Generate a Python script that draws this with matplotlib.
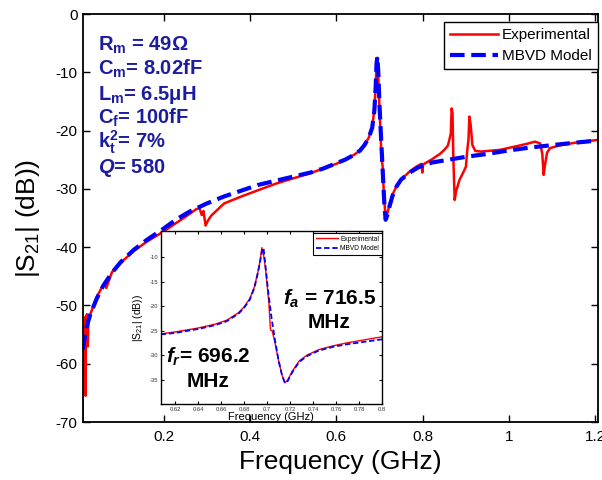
import matplotlib
matplotlib.use('Agg')
from matplotlib import pyplot as plt

plt.rcParams['font.family'] = ['Liberation Sans', 'DejaVu Sans']
plt.rcParams['axes.unicode_minus'] = False
plt.rcParams['mathtext.fontset'] = 'custom'
plt.rcParams['mathtext.rm'] = 'Liberation Sans:bold'
plt.rcParams['mathtext.bf'] = 'Liberation Sans:bold'
plt.rcParams['mathtext.it'] = 'Liberation Sans:italic:bold'

# main plot, measured response (GHz, dB)
exp_freq = [0.012, 0.0125, 0.014, 0.016, 0.018, 0.019, 0.020, 0.022, 0.024, 0.026, 0.030,
            0.045, 0.060, 0.065, 0.067, 0.080, 0.100, 0.130, 0.160, 0.200, 0.230, 0.260,
            0.275, 0.283, 0.288, 0.292, 0.297, 0.302, 0.310, 0.340, 0.380, 0.420, 0.460,
            0.500, 0.540, 0.570, 0.600, 0.620, 0.640, 0.655, 0.665, 0.675, 0.683, 0.688,
            0.691, 0.693, 0.695, 0.697, 0.700, 0.703, 0.705, 0.707, 0.710, 0.714, 0.718,
            0.723, 0.730, 0.740, 0.750, 0.770, 0.785, 0.797, 0.799, 0.801, 0.820, 0.840,
            0.850, 0.858, 0.862, 0.865, 0.867, 0.869, 0.871, 0.874, 0.877, 0.885, 0.895,
            0.900, 0.903, 0.906, 0.908, 0.911, 0.915, 0.922, 0.935, 0.950, 0.980, 1.010,
            1.040, 1.060, 1.072, 1.077, 1.080, 1.083, 1.088, 1.095, 1.120, 1.160, 1.206]
exp_db = [-70, -57.5, -62, -55, -52, -65.5, -53, -51.5, -57, -52, -51.5,
          -48.5, -46.5, -46.0, -47.0, -44.3, -42.7, -40.7, -39.1, -37.3, -35.8, -34.3,
          -33.5, -33.3, -34.5, -33.8, -36.3, -35.5, -34.6, -32.5, -31.3, -30.2, -29.1,
          -28.2, -27.3, -26.5, -25.7, -25.0, -24.2, -23.4, -22.5, -21.2, -19.4, -16.3,
          -12.3, -8.5, -7.5, -10.5, -16.5, -22.0, -25.0, -26.0, -31.0, -35.0, -34.2,
          -32.8, -31.0, -29.4, -28.4, -27.0, -26.2, -25.7, -27.2, -25.8, -25.0, -24.0,
          -23.3, -22.6, -21.5, -20.5, -16.2, -17.0, -25.0, -31.9, -30.5, -28.5, -27.0,
          -26.2, -23.5, -21.5, -17.6, -19.0, -22.5, -23.5, -23.6, -23.5, -23.3, -22.8,
          -22.3, -21.9, -22.2, -24.0, -27.6, -26.0, -23.8, -23.0, -22.5, -22.0, -21.6]

# main plot, MBVD model
mod_freq = [0.013, 0.020, 0.030, 0.045, 0.060, 0.080, 0.100, 0.130, 0.160, 0.200, 0.230,
            0.260, 0.300, 0.340, 0.380, 0.420, 0.460, 0.500, 0.540, 0.570, 0.600, 0.620,
            0.640, 0.655, 0.665, 0.675, 0.683, 0.688, 0.691, 0.693, 0.695, 0.697, 0.700,
            0.704, 0.708, 0.711, 0.714, 0.718, 0.723, 0.730, 0.740, 0.750, 0.770, 0.790,
            0.820, 0.860, 0.900, 0.950, 1.000, 1.050, 1.100, 1.150, 1.206]
mod_db = [-57.5, -54.0, -51.5, -48.8, -46.6, -44.4, -42.6, -40.5, -38.8, -36.8, -35.2,
          -33.9, -32.5, -31.3, -30.3, -29.3, -28.6, -27.9, -27.2, -26.5, -25.6, -25.0,
          -24.2, -23.4, -22.5, -21.2, -19.5, -16.5, -12.5, -8.5, -7.3, -10.0, -15.9,
          -22.0, -28.0, -32.5, -35.3, -34.5, -33.0, -31.2, -29.5, -28.4, -27.2, -26.3,
          -25.5, -25.0, -24.5, -24.0, -23.4, -22.9, -22.5, -22.1, -21.7]

# inset, zoom around the resonance
in_exp_freq = [0.6075, 0.620, 0.640, 0.655, 0.665, 0.675, 0.680, 0.685, 0.689, 0.692, 0.694,
               0.6955, 0.697, 0.699, 0.7015, 0.703, 0.7045, 0.707, 0.710, 0.713, 0.7155,
               0.718, 0.722, 0.728, 0.735, 0.745, 0.758, 0.770, 0.785, 0.800]
in_exp_db = [-25.6, -25.2, -24.4, -23.6, -22.8, -21.3, -20.1, -18.4, -16.0, -13.0, -10.6,
             -8.0, -9.5, -13.0, -19.0, -24.8, -25.0, -27.5, -31.0, -34.0, -35.6,
             -35.0, -33.2, -31.1, -29.9, -28.8, -28.0, -27.4, -26.8, -26.2]
in_mod_freq = [0.6075, 0.620, 0.640, 0.655, 0.665, 0.675, 0.680, 0.685, 0.689, 0.692, 0.694,
               0.696, 0.697, 0.699, 0.701, 0.704, 0.707, 0.710, 0.713, 0.7155, 0.718,
               0.722, 0.728, 0.735, 0.745, 0.758, 0.770, 0.785, 0.800]
in_mod_db = [-25.7, -25.4, -24.6, -23.8, -23.0, -21.5, -20.3, -18.6, -16.2, -13.2, -10.8,
             -8.1, -8.2, -12.5, -17.0, -22.5, -27.0, -31.0, -34.0, -35.6, -35.2,
             -33.4, -31.3, -30.1, -29.0, -28.2, -27.7, -27.2, -26.7]

params = [r'$\mathregular{R_m}$ = 49Ω', r'$\mathregular{C_m}$= 8.02fF', r'$\mathregular{L_m}$= 6.5μH',
          r'$\mathregular{C_f}$= 100fF', r'$\mathregular{k_t^2}$= 7%', r'$\mathit{Q}$= 580']

W, H = 602, 480
fig = plt.figure(figsize=(W / 100, H / 100), dpi=100)

def px(x, y):
    return x / W, 1 - y / H

ax = fig.add_axes([83 / W, 1 - 422 / H, 515 / W, 408 / H])
ax.plot(exp_freq, exp_db, color='#ff0000', lw=1.8, label='Experimental')
ax.plot(mod_freq, mod_db, color='#0000ff', lw=3, ls=(0, (3.5, 1.6)), label='MBVD Model')
ax.set_xlim(0.013, 1.206)
ax.set_ylim(-70, 0)
ax.set_xticks([0.2, 0.4, 0.6, 0.8, 1.0, 1.2])
ax.set_xticklabels(['0.2', '0.4', '0.6', '0.8', '1', '1.2'])
ax.set_yticks(range(-70, 1, 10))
ax.tick_params(direction='in', length=5, width=1, labelsize=11, top=True, right=True)
ax.tick_params(axis='x', pad=6)
ax.tick_params(axis='y', pad=4)
for s in ax.spines.values():
    s.set_linewidth(1.3)
ax.set_xlabel('Frequency (GHz)', fontsize=19, labelpad=4)
ax.set_ylabel(r'$\mathregular{|S_{21}|}$ (dB))', fontsize=19)
ax.yaxis.set_label_coords(-0.08, 0.5)
leg = ax.legend(loc='upper right', bbox_to_anchor=(1.0, 1 - 8 / 408), borderaxespad=0,
                fontsize=11, fancybox=False, framealpha=1, edgecolor='black',
                handlelength=3.1, handletextpad=0.3, labelspacing=0.45, borderpad=0.4)
leg.get_frame().set_linewidth(1)

for i, t in enumerate(params):
    fig.text(*px(98, 50.5 + i * 24.5), t, fontsize=14.5, fontweight='bold',
             color='#1c1ca0', va='baseline', ha='left')

# inset
axi = fig.add_axes([160.7 / W, 1 - 404 / H, 221.3 / W, 173 / H])
axi.plot(in_exp_freq, in_exp_db, color='#ff0000', lw=1, label='Experimental')
axi.plot(in_mod_freq, in_mod_db, color='#0000ff', lw=1.3, ls=(0, (3, 1.5)), label='MBVD Model')
axi.set_xlim(0.6075, 0.8)
axi.set_ylim(-39.9, -4.6)
axi.set_xticks([0.62, 0.64, 0.66, 0.68, 0.70, 0.72, 0.74, 0.76, 0.78, 0.80])
axi.set_xticklabels(['0.62', '0.64', '0.66', '0.68', '0.7', '0.72', '0.74', '0.76', '0.78', '0.8'])
axi.set_yticks([-35, -30, -25, -20, -15, -10])
axi.tick_params(direction='in', length=2.5, width=0.8, labelsize=4.2, pad=2,
                top=True, right=True, labelcolor='#333333')
for s in axi.spines.values():
    s.set_linewidth(1)
axi.set_xlabel('Frequency (GHz)', fontsize=8, labelpad=0)
axi.set_ylabel(r'$\mathregular{|S_{21}|}$ (dB))', fontsize=7.5, labelpad=3)
legi = axi.legend(loc='upper right', bbox_to_anchor=(1.0, 1 - 2 / 173), borderaxespad=0,
                  fontsize=4.8, fancybox=False, framealpha=1, edgecolor='black',
                  handlelength=3.3, handletextpad=0.4, labelspacing=0.4, borderpad=0.4)
legi.get_frame().set_linewidth(0.8)

fig.text(*px(329.5, 305), r'$\mathit{f_a}$ = 716.5', fontsize=15, fontweight='bold',
         ha='center', va='baseline')
fig.text(*px(329.5, 328), 'MHz', fontsize=15, fontweight='bold', ha='center', va='baseline')
fig.text(*px(208.5, 363), r'$\mathit{f_r}$= 696.2', fontsize=15, fontweight='bold',
         ha='center', va='baseline')
fig.text(*px(208.5, 387), 'MHz', fontsize=15, fontweight='bold', ha='center', va='baseline')

fig.savefig('out.png', dpi=100)
